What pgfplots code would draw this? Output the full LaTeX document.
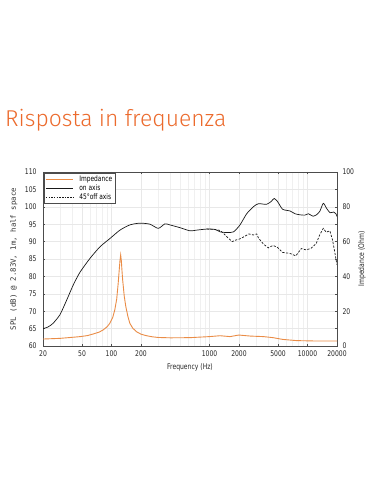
\documentclass[border=0pt]{standalone}
\usepackage{fontspec}
\usepackage{pgfplots}
\pgfplotsset{compat=1.18}
\newfontfamily\titlefont{Fira Sans Light}
\newfontfamily\chartfont{DejaVu Sans}[FakeStretch=0.78]
\newfontfamily\labfont{DejaVu Sans Mono}
\definecolor{titleorange}{RGB}{236,106,44}
\definecolor{impor}{RGB}{234,140,70}
\definecolor{gridc}{RGB}{232,232,232}
\definecolor{gridm}{RGB}{240,240,240}
\begin{document}
\begin{tikzpicture}
\fill[white] (0,0) rectangle (381bp,492bp);
\useasboundingbox (0,0) rectangle (381bp,492bp);
\node[anchor=base west, inner sep=0pt, text=titleorange, font=\titlefont\fontsize{23}{26}\selectfont] at (5bp,365bp) {Risposta in frequenza};
\begin{axis}[
  scale only axis, width=294bp, height=174bp,
  at={(43bp,146bp)}, anchor=south west,
  xmode=log, xmin=20, xmax=20000,
  tick label style={font=\chartfont\fontsize{7.8}{8}\selectfont, text=black!85},
  /pgf/number format/assume math mode=true,
  major tick length=2bp, minor tick length=0bp,
  tick style={black!70, line width=0.4pt},
  ymin=60, ymax=110, ytick={60,65,...,110},
  xtick={20,50,100,200,1000,2000,5000,10000,20000},
  xticklabels={20,50,100,200,1000,2000,5000,10000,20000},
  minor xtick={30,40,60,70,80,90,300,400,500,600,700,800,900,3000,4000,6000,7000,8000,9000},
  grid=both, major grid style={gridc, line width=0.4pt}, minor grid style={gridm, line width=0.4pt},
  axis line style={black!70, line width=0.5pt},
  yticklabel style={xshift=-3bp},
  xticklabel style={yshift=-1bp},
  xlabel={Frequency (Hz)},
  xlabel style={font=\chartfont\fontsize{7.8}{8}\selectfont, at={(axis description cs:0.5,-0.121)}, anchor=center, text=black!85},
  ylabel={SPL (dB) @ 2.83V, 1m, half space},
  ylabel style={font=\labfont\fontsize{7.4}{8}\selectfont, at={(axis description cs:-0.099,0.5)}, anchor=center, text=black!80},
]
\addplot[black!90, line width=0.7pt, smooth, tension=0.4] coordinates {
(20,65.0) (21.8,65.3) (23.5,65.8) (25.5,66.6) (29.8,69.0) (34.9,73.2) (40.8,77.6) (47.7,81.2)
(60.4,85.2) (76.3,88.5) (96.5,90.9) (122,93.3) (154,94.8) (195,95.3) (247,95.0)
(300,93.8) (351,95.1) (394,94.8) (500,94.0) (632,93.1) (740,93.3) (936,93.6) (1138,93.5)
(1280,92.8) (1500,92.6) (1760,92.8) (2048,94.8) (2395,98.0) (2800,100.0) (3160,100.9)
(3800,100.7) (4250,101.5) (4570,102.4) (4950,101.5) (5570,99.3) (6630,98.8) (7470,98.0)
(8370,97.7) (9400,97.6) (10200,98.0) (11400,97.3) (12500,97.8) (13400,98.8) (14500,101.0)
(15700,99.5) (17000,98.3) (18500,98.5) (19500,98.0) (20000,97.2)
};
\addplot[black!90, line width=0.7pt, dash pattern=on 2.2pt off 1.5pt] coordinates {
(936,93.6) (1138,93.5) (1280,93.2) (1400,92.3) (1500,91.4) (1700,90.0) (1880,90.5) (2050,90.8)
(2250,91.4) (2520,92.2) (2800,91.9) (3040,92.2) (3160,91.0) (3550,89.3) (3980,88.2)
(4450,88.9) (4950,88.3) (5570,86.9) (6630,86.6) (7600,85.9) (8640,88.0) (9700,87.6)
(10900,88.1) (12300,89.5) (13300,91.9) (14500,93.8) (15500,92.7) (16900,93.1)
(18000,90.5) (18800,87.6) (19500,85.0) (20000,83.3)
};
\end{axis}
\begin{axis}[
  scale only axis, width=294bp, height=174bp,
  at={(43bp,146bp)}, anchor=south west,
  xmode=log, xmin=20, xmax=20000,
  tick label style={font=\chartfont\fontsize{7.8}{8}\selectfont, text=black!85},
  /pgf/number format/assume math mode=true,
  major tick length=2bp, minor tick length=0bp,
  tick style={black!70, line width=0.4pt},
  ymin=0, ymax=100, ytick={0,20,...,100},
  axis x line=none, axis y line*=right,
  axis line style={black!70, line width=0.5pt},
  yticklabel style={xshift=2bp},
  ylabel={Impedance (Ohm)},
  every axis y label/.style={at={(axis description cs:1.085,0.5)}, rotate=90, anchor=center,
    font=\chartfont\fontsize{7.8}{8}\selectfont, text=black!85},
  legend style={at={(0.004,0.995)}, anchor=north west, draw=black!70, line width=0.6pt,
    font=\chartfont\fontsize{7.6}{7}\selectfont, inner xsep=1pt, inner ysep=0.5pt, row sep=-2.2pt,
    legend cell align=left, fill=white},
  legend image code/.code={\draw[#1] (0bp,0bp) -- (27bp,0bp);},
  legend style={/tikz/every odd column/.append style={column sep=4pt}},
]
\addplot[impor, line width=0.9pt] coordinates {
(20,4.0) (30,4.4) (40,5.0) (48,5.4) (57,6.0) (65,6.9) (75,8.0) (82,9.2) (90,11.0) (96,13.0) (103,16.5) (108,20.7)
(113,27) (117,36) (120,44) (122,49) (124,52.3) (126,49) (128,43) (130,37.9) (135,28.5) (140,22.6) (147,17)
(154,13) (165,10.2) (180,8.2) (200,6.8) (228,5.9) (260,5.3) (300,4.9) (400,4.7) (632,4.8) (1000,5.4) (1280,5.9)
(1620,5.4) (1990,6.3) (2620,5.7) (3550,5.4) (4450,4.8) (5570,3.8) (7700,3.1) (11400,2.9) (20000,2.9)
};
\addlegendentry{Impedance}
\addlegendimage{black!90, line width=0.7pt}
\addlegendentry{on axis}
\addlegendimage{black!90, line width=0.7pt, dash pattern=on 1.5pt off 1.2pt}
\addlegendentry{45°off axis}
\end{axis}
\end{tikzpicture}
\end{document}
